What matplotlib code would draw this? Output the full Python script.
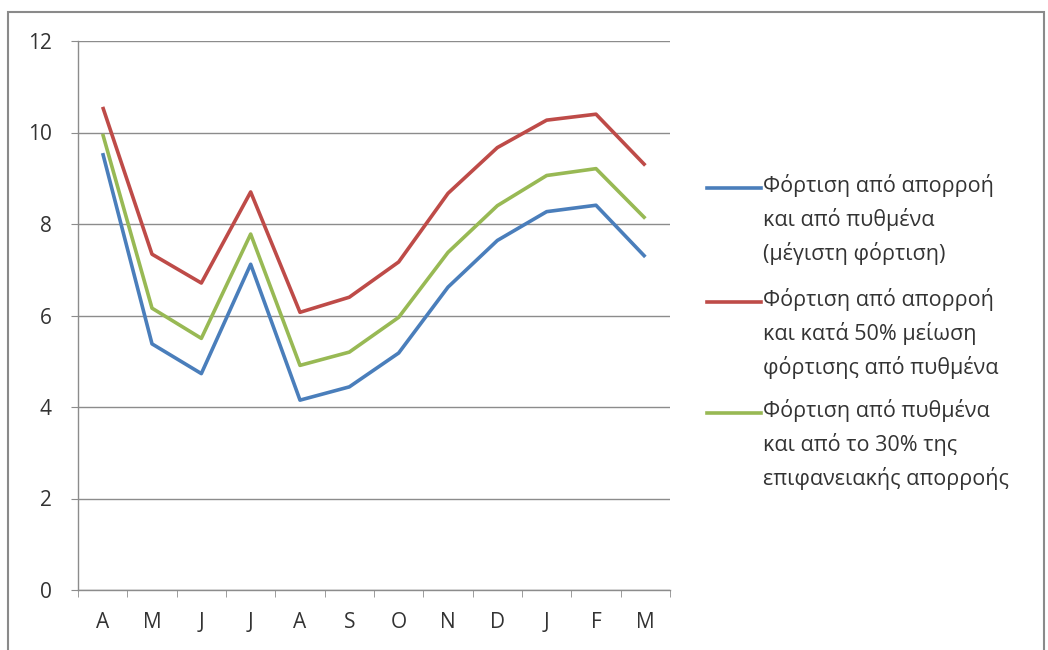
import numpy as np
import matplotlib
matplotlib.use("Agg")
import matplotlib.pyplot as plt
from matplotlib.lines import Line2D
from matplotlib.patches import Rectangle

plt.rcParams["font.family"] = ["Open Sans", "DejaVu Sans"]

# months, April to March
months = ["A", "M", "J", "J", "A", "S", "O", "N", "D", "J", "F", "M"]

# loading scenarios
max_load = [9.55, 5.38, 4.73, 7.12, 4.15, 4.44, 5.18, 6.62, 7.64, 8.27, 8.41, 7.28]
half_bottom = [10.56, 7.34, 6.71, 8.70, 6.07, 6.40, 7.17, 8.67, 9.67, 10.27, 10.40, 9.28]
bottom_30 = [9.97, 6.16, 5.50, 7.78, 4.91, 5.20, 5.96, 7.38, 8.40, 9.06, 9.21, 8.12]

labels = [
    "Φόρτιση από απορροή\nκαι από πυθμένα\n(μέγιστη φόρτιση)",
    "Φόρτιση από απορροή\nκαι κατά 50% μείωση\nφόρτισης από πυθμένα",
    "Φόρτιση από πυθμένα\nκαι από το 30% της\nεπιφανειακής απορροής",
]
colors = ["#4a7ebb", "#be4b48", "#98b954"]
series = [max_load, half_bottom, bottom_30]

W, H = 1048, 650
fig = plt.figure(figsize=(W / 100, H / 100), dpi=100)
ax = fig.add_axes([78 / W, 1 - 590 / H, (670 - 78) / W, (590 - 41) / H])

x = np.arange(len(months))
for vals, c in zip(series, colors):
    ax.plot(x, vals, color=c, lw=2.6, solid_joinstyle="round", solid_capstyle="butt")

ax.set_xlim(-0.5, len(months) - 0.5)
ax.set_ylim(0, 12)
ax.set_yticks(range(0, 13, 2))
ax.set_xticks(x)
ax.set_xticklabels(months)
ax.set_xticks(np.arange(-0.5, len(months)), minor=True)

ax.yaxis.grid(True, color="#8c8c8c", lw=1)
ax.set_axisbelow(True)
for side in ["top", "right"]:
    ax.spines[side].set_visible(False)
for side in ["left", "bottom"]:
    ax.spines[side].set_color("#8c8c8c")
    ax.spines[side].set_linewidth(1)

tick_color = "#333333"
ax.tick_params(axis="y", length=5, color="#8c8c8c", pad=14, labelsize=15, labelcolor=tick_color)
ax.tick_params(axis="x", which="major", length=0, pad=16, labelsize=15, labelcolor=tick_color)
ax.tick_params(axis="x", which="minor", length=5, color="#8c8c8c")

# legend drawn on the right, handle level with first text line
handle_y = [188, 302, 413]
for lab, c, hy in zip(labels, colors, handle_y):
    yf = 1 - hy / H
    fig.add_artist(Line2D([707 / W, 761 / W], [yf, yf], color=c, lw=2.6,
                          transform=fig.transFigure))
    fig.text(763 / W, 1 - (hy - 14) / H, lab, fontsize=15.5, color=tick_color,
             va="top", ha="left", linespacing=1.62, transform=fig.transFigure)

# chart frame
fig.add_artist(Rectangle((8 / W, -0.02), (1044 - 8) / W, 1 - 12 / H + 0.02,
                         transform=fig.transFigure, fill=False,
                         edgecolor="#8a8a8a", lw=1.5))

fig.savefig("out.png", dpi=100)
